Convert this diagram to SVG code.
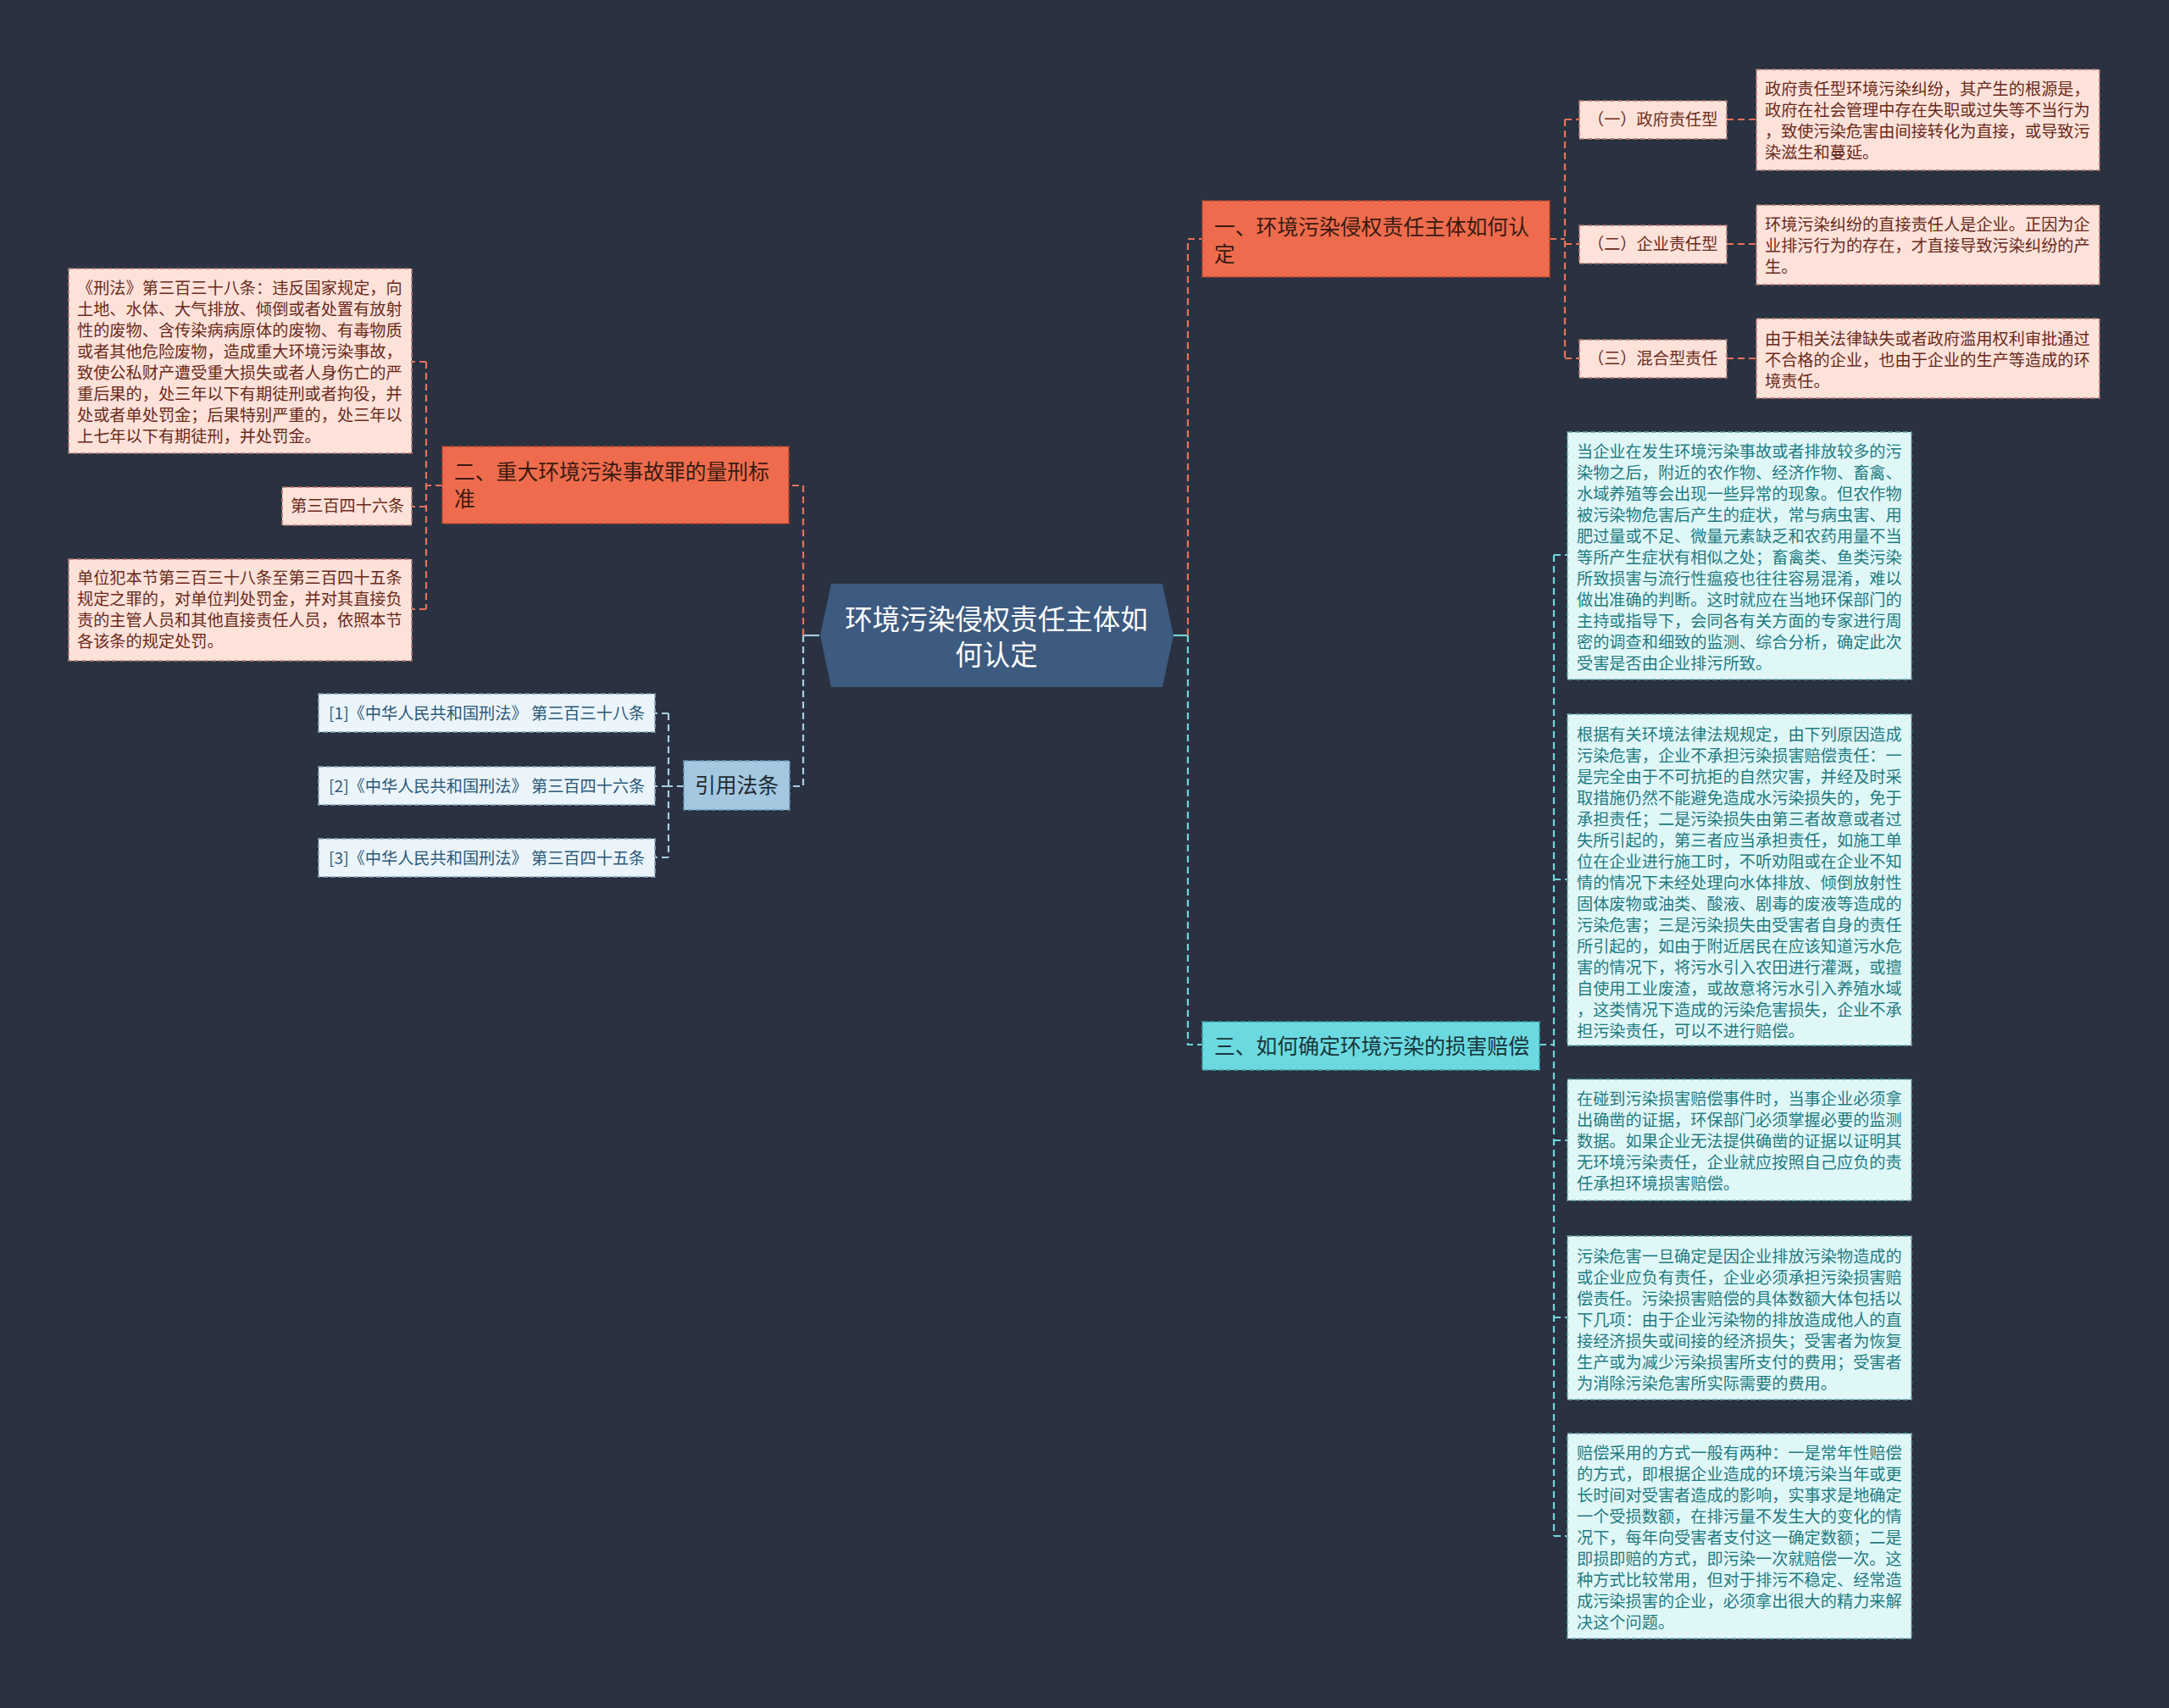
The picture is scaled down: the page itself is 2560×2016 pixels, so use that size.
<svg xmlns="http://www.w3.org/2000/svg" width="2560" height="2016" viewBox="0 0 2560 2016">
<style>
text{font-family:"Noto Sans CJK SC","Noto Sans",sans-serif}
.bd{stroke-width:1.6;stroke-dasharray:6 3}
.ctr{fill:#3d5a80}
.ctrt{fill:#ffffff;font-size:32.5px}
.ob{fill:#ee6c4d;stroke:#b5452c}
.obt{fill:#3b1a10;font-size:24.8px}
.pk{fill:#fde2da;stroke:#b07a70}
.pkt{fill:#6a2a1a;font-size:19.2px}
.cb{fill:#6bdae0;stroke:#3a9fa6}
.cbt{fill:#17353b;font-size:24.8px}
.lc{fill:#e0f7f8;stroke:#6aa8ad}
.lct{fill:#1f7b80;font-size:19.2px}
.rb{fill:#a3c8e0;stroke:#6a94b2}
.rbt{fill:#1f2a33;font-size:24.8px}
.rl{fill:#eaf4fa;stroke:#8aaac0}
.rlt{fill:#2d5876;font-size:19.2px}
.c{fill:none;stroke-width:2.2;stroke-dasharray:8 5}
.co{stroke:#e8705a}
.ct{stroke:#6fd6dc}
.cl{stroke:#a8cde3}
</style>
<rect x="0" y="0" width="2560" height="2016" fill="#2a3140"/>

<g id="connectors">
  <path d="M1385,750 H1402" fill="none" stroke="#6fd6dc" stroke-width="2.2"/>
  <path class="c co" d="M1402,750 V282 H1419"/>
  <path class="c ct" d="M1402,750 V1233 H1419"/>
  <path d="M967,750 H948" fill="none" stroke="#a8cde3" stroke-width="2.2"/>
  <path class="c co" d="M948,750 V573 H931"/>
  <path class="c cl" d="M948,750 V928 H932"/>
  <path class="c co" d="M1829,282 H1847 M1847,141 V423 M1847,141 H1864 M1847,288 H1864 M1847,423 H1864"/>
  <path class="c co" d="M2038,141 H2073 M2038,288 H2073 M2038,423 H2073"/>
  <path class="c co" d="M522,573 H503 M503,427 V719 M503,427 H486 M503,598 H486 M503,719 H486"/>
  <path class="c cl" d="M807,928 H789 M789,842 V1012 M789,842 H773 M789,928 H773 M789,1012 H773"/>
  <path class="c ct" d="M1817,1233 H1834 M1834,655 V1813 M1834,655 H1850 M1834,1038 H1850 M1834,1346 H1850 M1834,1555 H1850 M1834,1813 H1850"/>
</g>

<g id="center">
  <polygon class="ctr" points="968,750 981,689 1372,689 1385,750 1372,811 981,811"/>
  <text class="ctrt" x="1176" y="743" text-anchor="middle">环境污染侵权责任主体如</text>
  <text class="ctrt" x="1176" y="785" text-anchor="middle">何认定</text>
</g>

<g id="branch1">
  <rect class="ob bd" x="1419" y="237" width="410" height="90"/>
  <text class="obt" x="1433" y="277">一、环境污染侵权责任主体如何认</text>
  <text class="obt" x="1433" y="309">定</text>
</g>

<g id="b1-label1">
  <rect class="pk bd" x="1864" y="119" width="174" height="45"/>
  <text class="pkt" x="1874" y="148">（一）政府责任型</text>
</g>
<g id="b1-text1">
  <rect class="pk bd" x="2073" y="82" width="405" height="119"/>
  <text class="pkt" x="2083" y="112">政府责任型环境污染纠纷，其产生的根源是，</text>
  <text class="pkt" x="2083" y="137">政府在社会管理中存在失职或过失等不当行为</text>
  <text class="pkt" x="2083" y="162">，致使污染危害由间接转化为直接，或导致污</text>
  <text class="pkt" x="2083" y="187">染滋生和蔓延。</text>
</g>
<g id="b1-label2">
  <rect class="pk bd" x="1864" y="266" width="174" height="45"/>
  <text class="pkt" x="1874" y="295">（二）企业责任型</text>
</g>
<g id="b1-text2">
  <rect class="pk bd" x="2073" y="242" width="405" height="94"/>
  <text class="pkt" x="2083" y="272">环境污染纠纷的直接责任人是企业。正因为企</text>
  <text class="pkt" x="2083" y="297">业排污行为的存在，才直接导致污染纠纷的产</text>
  <text class="pkt" x="2083" y="322">生。</text>
</g>
<g id="b1-label3">
  <rect class="pk bd" x="1864" y="401" width="174" height="45"/>
  <text class="pkt" x="1874" y="430">（三）混合型责任</text>
</g>
<g id="b1-text3">
  <rect class="pk bd" x="2073" y="376" width="405" height="94"/>
  <text class="pkt" x="2083" y="407">由于相关法律缺失或者政府滥用权利审批通过</text>
  <text class="pkt" x="2083" y="432">不合格的企业，也由于企业的生产等造成的环</text>
  <text class="pkt" x="2083" y="457">境责任。</text>
</g>

<g id="branch2">
  <rect class="ob bd" x="522" y="527" width="409" height="91"/>
  <text class="obt" x="536" y="566">二、重大环境污染事故罪的量刑标</text>
  <text class="obt" x="536" y="598">准</text>
</g>
<g id="b2-text1">
  <rect class="pk bd" x="81" y="317" width="405" height="218"/>
  <text class="pkt" x="91" y="347">《刑法》第三百三十八条：违反国家规定，向</text>
  <text class="pkt" x="91" y="372">土地、水体、大气排放、倾倒或者处置有放射</text>
  <text class="pkt" x="91" y="397">性的废物、含传染病病原体的废物、有毒物质</text>
  <text class="pkt" x="91" y="422">或者其他危险废物，造成重大环境污染事故，</text>
  <text class="pkt" x="91" y="447">致使公私财产遭受重大损失或者人身伤亡的严</text>
  <text class="pkt" x="91" y="472">重后果的，处三年以下有期徒刑或者拘役，并</text>
  <text class="pkt" x="91" y="497">处或者单处罚金；后果特别严重的，处三年以</text>
  <text class="pkt" x="91" y="522">上七年以下有期徒刑，并处罚金。</text>
</g>
<g id="b2-text2">
  <rect class="pk bd" x="333" y="575" width="153" height="45"/>
  <text class="pkt" x="343" y="604">第三百四十六条</text>
</g>
<g id="b2-text3">
  <rect class="pk bd" x="81" y="660" width="405" height="120"/>
  <text class="pkt" x="91" y="689">单位犯本节第三百三十八条至第三百四十五条</text>
  <text class="pkt" x="91" y="714">规定之罪的，对单位判处罚金，并对其直接负</text>
  <text class="pkt" x="91" y="739">责的主管人员和其他直接责任人员，依照本节</text>
  <text class="pkt" x="91" y="764">各该条的规定处罚。</text>
</g>

<g id="refs">
  <rect class="rb bd" x="807" y="898" width="125" height="58"/>
  <text class="rbt" x="869.5" y="936" text-anchor="middle">引用法条</text>
</g>
<g id="ref1">
  <rect class="rl bd" x="376" y="819" width="397" height="45"/>
  <text class="rlt" x="388" y="849">[1]《中华人民共和国刑法》 第三百三十八条</text>
</g>
<g id="ref2">
  <rect class="rl bd" x="376" y="905" width="397" height="45"/>
  <text class="rlt" x="388" y="935">[2]《中华人民共和国刑法》 第三百四十六条</text>
</g>
<g id="ref3">
  <rect class="rl bd" x="376" y="990" width="397" height="45"/>
  <text class="rlt" x="388" y="1020">[3]《中华人民共和国刑法》 第三百四十五条</text>
</g>

<g id="branch3">
  <rect class="cb bd" x="1419" y="1206" width="398" height="57"/>
  <text class="cbt" x="1433" y="1244">三、如何确定环境污染的损害赔偿</text>
</g>
<g id="b3-text1">
  <rect class="lc bd" x="1850" y="510" width="406" height="292"/>
  <text class="lct" x="1861" y="540">当企业在发生环境污染事故或者排放较多的污</text>
  <text class="lct" x="1861" y="565">染物之后，附近的农作物、经济作物、畜禽、</text>
  <text class="lct" x="1861" y="590">水域养殖等会出现一些异常的现象。但农作物</text>
  <text class="lct" x="1861" y="615">被污染物危害后产生的症状，常与病虫害、用</text>
  <text class="lct" x="1861" y="640">肥过量或不足、微量元素缺乏和农药用量不当</text>
  <text class="lct" x="1861" y="665">等所产生症状有相似之处；畜禽类、鱼类污染</text>
  <text class="lct" x="1861" y="690">所致损害与流行性瘟疫也往往容易混淆，难以</text>
  <text class="lct" x="1861" y="715">做出准确的判断。这时就应在当地环保部门的</text>
  <text class="lct" x="1861" y="740">主持或指导下，会同各有关方面的专家进行周</text>
  <text class="lct" x="1861" y="765">密的调查和细致的监测、综合分析，确定此次</text>
  <text class="lct" x="1861" y="790">受害是否由企业排污所致。</text>
</g>
<g id="b3-text2">
  <rect class="lc bd" x="1850" y="843" width="406" height="391"/>
  <text class="lct" x="1861" y="874">根据有关环境法律法规规定，由下列原因造成</text>
  <text class="lct" x="1861" y="899">污染危害，企业不承担污染损害赔偿责任：一</text>
  <text class="lct" x="1861" y="924">是完全由于不可抗拒的自然灾害，并经及时采</text>
  <text class="lct" x="1861" y="949">取措施仍然不能避免造成水污染损失的，免于</text>
  <text class="lct" x="1861" y="974">承担责任；二是污染损失由第三者故意或者过</text>
  <text class="lct" x="1861" y="999">失所引起的，第三者应当承担责任，如施工单</text>
  <text class="lct" x="1861" y="1024">位在企业进行施工时，不听劝阻或在企业不知</text>
  <text class="lct" x="1861" y="1049">情的情况下未经处理向水体排放、倾倒放射性</text>
  <text class="lct" x="1861" y="1074">固体废物或油类、酸液、剧毒的废液等造成的</text>
  <text class="lct" x="1861" y="1099">污染危害；三是污染损失由受害者自身的责任</text>
  <text class="lct" x="1861" y="1124">所引起的，如由于附近居民在应该知道污水危</text>
  <text class="lct" x="1861" y="1149">害的情况下，将污水引入农田进行灌溉，或擅</text>
  <text class="lct" x="1861" y="1174">自使用工业废渣，或故意将污水引入养殖水域</text>
  <text class="lct" x="1861" y="1199">，这类情况下造成的污染危害损失，企业不承</text>
  <text class="lct" x="1861" y="1224">担污染责任，可以不进行赔偿。</text>
</g>
<g id="b3-text3">
  <rect class="lc bd" x="1850" y="1274" width="406" height="143"/>
  <text class="lct" x="1861" y="1304">在碰到污染损害赔偿事件时，当事企业必须拿</text>
  <text class="lct" x="1861" y="1329">出确凿的证据，环保部门必须掌握必要的监测</text>
  <text class="lct" x="1861" y="1354">数据。如果企业无法提供确凿的证据以证明其</text>
  <text class="lct" x="1861" y="1379">无环境污染责任，企业就应按照自己应负的责</text>
  <text class="lct" x="1861" y="1404">任承担环境损害赔偿。</text>
</g>
<g id="b3-text4">
  <rect class="lc bd" x="1850" y="1459" width="406" height="193"/>
  <text class="lct" x="1861" y="1490">污染危害一旦确定是因企业排放污染物造成的</text>
  <text class="lct" x="1861" y="1515">或企业应负有责任，企业必须承担污染损害赔</text>
  <text class="lct" x="1861" y="1540">偿责任。污染损害赔偿的具体数额大体包括以</text>
  <text class="lct" x="1861" y="1565">下几项：由于企业污染物的排放造成他人的直</text>
  <text class="lct" x="1861" y="1590">接经济损失或间接的经济损失；受害者为恢复</text>
  <text class="lct" x="1861" y="1615">生产或为减少污染损害所支付的费用；受害者</text>
  <text class="lct" x="1861" y="1640">为消除污染危害所实际需要的费用。</text>
</g>
<g id="b3-text5">
  <rect class="lc bd" x="1850" y="1692" width="406" height="242"/>
  <text class="lct" x="1861" y="1722">赔偿采用的方式一般有两种：一是常年性赔偿</text>
  <text class="lct" x="1861" y="1747">的方式，即根据企业造成的环境污染当年或更</text>
  <text class="lct" x="1861" y="1772">长时间对受害者造成的影响，实事求是地确定</text>
  <text class="lct" x="1861" y="1797">一个受损数额，在排污量不发生大的变化的情</text>
  <text class="lct" x="1861" y="1822">况下，每年向受害者支付这一确定数额；二是</text>
  <text class="lct" x="1861" y="1847">即损即赔的方式，即污染一次就赔偿一次。这</text>
  <text class="lct" x="1861" y="1872">种方式比较常用，但对于排污不稳定、经常造</text>
  <text class="lct" x="1861" y="1897">成污染损害的企业，必须拿出很大的精力来解</text>
  <text class="lct" x="1861" y="1922">决这个问题。</text>
</g>
</svg>
